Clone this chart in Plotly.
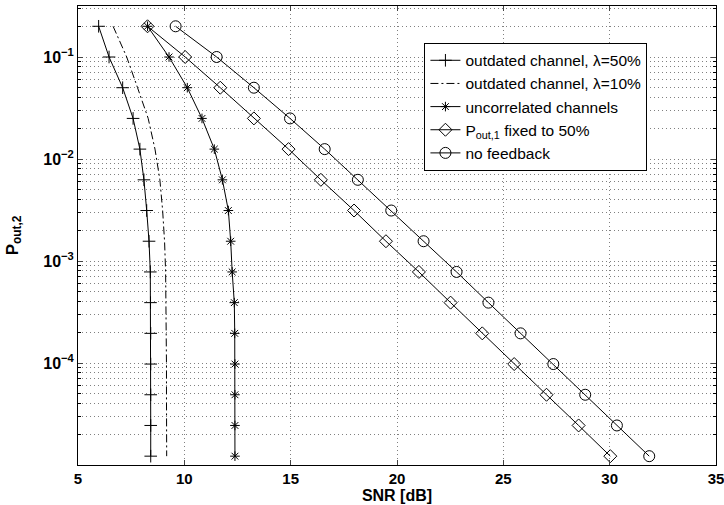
import plotly.graph_objects as go

# Outage probability values (shared by every curve): 0.2 halved 14 times
pout2 = [0.2, 0.1, 0.05, 0.025, 0.0125, 6.25e-3, 3.125e-3, 1.5625e-3,
         7.8125e-4, 3.90625e-4, 1.953125e-4, 9.765625e-5, 4.8828125e-5,
         2.44140625e-5, 1.220703125e-5]

snr_outdated50 = [5.97, 6.46, 7.10, 7.59, 7.91, 8.10, 8.23, 8.34, 8.40, 8.41,
                  8.42, 8.42, 8.42, 8.42, 8.42]
snr_outdated10 = [6.65, 7.29, 7.80, 8.30, 8.62, 8.85, 8.98, 9.07, 9.12, 9.14,
                  9.15, 9.16, 9.16, 9.17, 9.17]
snr_uncorrelated = [8.27, 9.28, 10.14, 10.83, 11.41, 11.79, 12.07, 12.18, 12.25,
                    12.35, 12.37, 12.38, 12.38, 12.38, 12.38]
snr_fixed = [8.27, 10.04, 11.69, 13.27, 14.90, 16.42, 17.98, 19.48, 21.03, 22.52,
             24.01, 25.51, 27.03, 28.54, 30.03]
snr_nofeedback = [9.59, 11.52, 13.27, 14.97, 16.60, 18.16, 19.73, 21.25, 22.80,
                  24.30, 25.81, 27.35, 28.85, 30.34, 31.86]

names = ["outdated channel, λ=50%", "outdated channel, λ=10%",
         "uncorrelated channels", "P<sub>out,1</sub> fixed to 50%", "no feedback"]

x_ticks = [5, 10, 15, 20, 25, 30, 35]
x_ticktext = ["<b>%d</b>" % v for v in x_ticks]
y_major = [1e-4, 1e-3, 1e-2, 1e-1]
y_ticktext = ["<b>10<sup>−4</sup></b>", "<b>10<sup>−3</sup></b>",
              "<b>10<sup>−2</sup></b>", "<b>10<sup>−1</sup></b>"]
y_minor = [m * 10.0 ** e for e in range(-5, 0) for m in range(2, 10) if m * 10.0 ** e < 0.32]

fig = go.Figure()
fig.add_trace(go.Scatter(x=snr_outdated50, y=pout2, name=names[0], mode="lines+markers",
                         line=dict(color="black", width=1),
                         marker=dict(symbol="cross-thin", size=9, line=dict(color="black", width=1))))
fig.add_trace(go.Scatter(x=snr_outdated10, y=pout2, name=names[1], mode="lines",
                         line=dict(color="black", width=1, dash="8px,3px,2px,3px")))
fig.add_trace(go.Scatter(x=snr_uncorrelated, y=pout2, name=names[2], mode="lines+markers",
                         line=dict(color="black", width=1),
                         marker=dict(symbol="asterisk", size=8, line=dict(color="black", width=1))))
fig.add_trace(go.Scatter(x=snr_fixed, y=pout2, name=names[3], mode="lines+markers",
                         line=dict(color="black", width=1),
                         marker=dict(symbol="diamond-open", size=10, color="black", line=dict(width=1))))
fig.add_trace(go.Scatter(x=snr_nofeedback, y=pout2, name=names[4], mode="lines+markers",
                         line=dict(color="black", width=1),
                         marker=dict(symbol="circle-open", size=11, color="black", line=dict(width=1))))

grid_col = "#808080"
grid_dash = "1px,3px"
fig.update_layout(
    width=724, height=505,
    margin=dict(l=78, r=8, t=6, b=40),
    plot_bgcolor="white", paper_bgcolor="white",
    font=dict(family="Liberation Sans, Arial, sans-serif", color="black"),
    showlegend=True,
    legend=dict(x=0.543, y=0.92, xanchor="left", yanchor="top",
                bgcolor="white", bordercolor="black", borderwidth=1,
                font=dict(size=15.5, family="Liberation Sans, Arial, sans-serif")),
    xaxis=dict(range=[5, 35], tickvals=x_ticks, ticktext=x_ticktext,
               ticks="inside", ticklen=5, ticklabeloverflow="allow",
               showline=True, linecolor="black", linewidth=1, mirror="allticks",
               showgrid=True, gridcolor=grid_col, griddash=grid_dash, gridwidth=1,
               zeroline=False, automargin=False,
               tickfont=dict(size=15),
               title=dict(text="<b>SNR [dB]</b>", font=dict(size=16), standoff=2)),
    yaxis=dict(type="log", range=[-5, -0.5], tickvals=y_major, ticktext=y_ticktext,
               ticks="inside", ticklen=5,
               showline=True, linecolor="black", linewidth=1, mirror="allticks",
               showgrid=True, gridcolor=grid_col, griddash=grid_dash, gridwidth=1,
               zeroline=False, automargin=False,
               tickfont=dict(size=16),
               minor=dict(tickvals=y_minor, ticks="inside", ticklen=3, tickcolor="black",
                          showgrid=True, gridcolor=grid_col, griddash=grid_dash, gridwidth=1),
               title=dict(text="<b>P<sub>out,2</sub></b>", font=dict(size=17), standoff=20)),
)

fig.write_html("out.html")
